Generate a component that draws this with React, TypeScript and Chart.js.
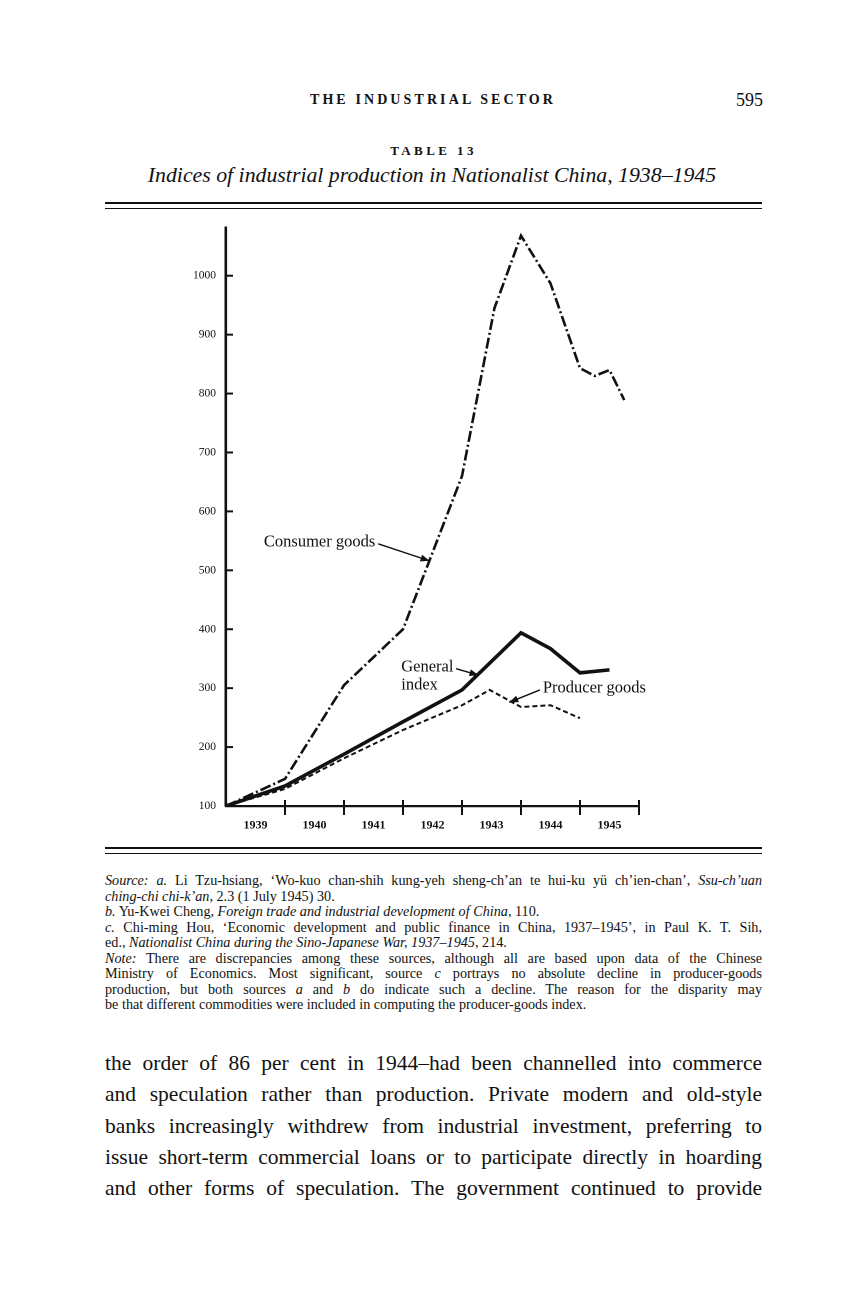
import React, { useEffect, useRef } from "react";
import { Chart, registerables } from "chart.js";

Chart.register(...registerables);

// ---- data ----
const yearLabels = ["1939", "1940", "1941", "1942", "1943", "1944", "1945"];
const yearLabelPositions = [0.5, 1.5, 2.5, 3.5, 4.5, 5.5, 6.5];
const yearBoundaries = [1, 2, 3, 4, 5, 6, 7];
const yTickValues = [100, 200, 300, 400, 500, 600, 700, 800, 900, 1000];

const generalX = [0, 1, 2, 3, 4, 5, 5.5, 6, 6.5];
const generalIndex = [100, 134, 188, 243, 297, 394, 367, 326, 331];

const consumerX = [0, 1, 2, 3, 4, 4.55, 5, 5.5, 6, 6.25, 6.5, 6.75];
const consumerGoods = [100, 146, 305, 400, 660, 945, 1068, 987, 843, 830, 840, 789];

const producerX = [0, 1, 2, 3, 4, 4.47, 5, 5.5, 6];
const producerGoods = [100, 129, 181, 229, 271, 297, 268, 271, 249];

// annotation labels, anchored in data units
const annotations = [
  { lines: ["Consumer goods"], tx: 2.53, ty: 548, align: "right", from: [2.58, 545], to: [3.45, 516] },
  { lines: ["General", "index"], tx: 2.97, ty: 336, align: "left", from: [3.9, 333], to: [4.28, 322] },
  { lines: ["Producer goods"], tx: 5.37, ty: 300, align: "left", from: [5.32, 297], to: [4.8, 276] },
];

const SERIF = '"Liberation Serif", "DejaVu Serif", serif';
const INK = "#111";

const zip = (xs: number[], ys: number[]) => xs.map((x, i) => ({ x, y: ys[i] }));

const marksPlugin = {
  id: "pageMarks",
  afterDraw(chart: any) {
    const { ctx, chartArea, scales } = chart;
    const xs = scales.x;
    const ys = scales.y;
    ctx.save();
    ctx.strokeStyle = INK;
    ctx.lineWidth = 2;
    for (const v of yearBoundaries) {
      const px = xs.getPixelForValue(v);
      ctx.beginPath();
      ctx.moveTo(px, chartArea.bottom - 6);
      ctx.lineTo(px, chartArea.bottom + 9);
      ctx.stroke();
    }
    for (const v of yTickValues) {
      if (v === yTickValues[0]) continue;
      const py = ys.getPixelForValue(v);
      ctx.beginPath();
      ctx.moveTo(chartArea.left, py);
      ctx.lineTo(chartArea.left + 7, py);
      ctx.stroke();
    }
    // annotations
    ctx.fillStyle = INK;
    ctx.font = `16.5px ${SERIF}`;
    ctx.textBaseline = "middle";
    for (const a of annotations) {
      const lx = xs.getPixelForValue(a.tx);
      const ly = ys.getPixelForValue(a.ty);
      ctx.textAlign = a.align as CanvasTextAlign;
      a.lines.forEach((t, i) => ctx.fillText(t, lx, ly + i * 18));
      const fx = xs.getPixelForValue(a.from[0]);
      const fy = ys.getPixelForValue(a.from[1]);
      const tx = xs.getPixelForValue(a.to[0]);
      const ty = ys.getPixelForValue(a.to[1]);
      ctx.lineWidth = 1.4;
      ctx.beginPath();
      ctx.moveTo(fx, fy);
      ctx.lineTo(tx, ty);
      ctx.stroke();
      const ang = Math.atan2(ty - fy, tx - fx);
      const L = 9, W = 3.5;
      ctx.beginPath();
      ctx.moveTo(tx, ty);
      ctx.lineTo(tx - L * Math.cos(ang) + W * Math.sin(ang), ty - L * Math.sin(ang) - W * Math.cos(ang));
      ctx.lineTo(tx - L * Math.cos(ang) - W * Math.sin(ang), ty - L * Math.sin(ang) + W * Math.cos(ang));
      ctx.closePath();
      ctx.fill();
    }
    ctx.restore();
  },
};

function IndexChart() {
  const ref = useRef<HTMLCanvasElement>(null);
  useEffect(() => {
    if (!ref.current) return;
    const chart = new Chart(ref.current, {
      type: "line",
      data: {
        datasets: [
          {
            label: "Consumer goods",
            data: zip(consumerX, consumerGoods),
            borderColor: INK,
            borderWidth: 2.6,
            borderDash: [11, 3, 2, 3],
            pointRadius: 0,
            tension: 0,
            fill: false,
          },
          {
            label: "Producer goods",
            data: zip(producerX, producerGoods),
            borderColor: INK,
            borderWidth: 2,
            borderDash: [5, 3],
            pointRadius: 0,
            tension: 0,
            fill: false,
          },
          {
            label: "General index",
            data: zip(generalX, generalIndex),
            borderColor: INK,
            borderWidth: 3.6,
            pointRadius: 0,
            tension: 0,
            fill: false,
          },
        ],
      },
      options: {
        animation: false,
        responsive: false,
        devicePixelRatio: 2,
        layout: { padding: { top: 8, right: 11, left: 0, bottom: 0 } },
        plugins: { legend: { display: false }, tooltip: { enabled: false } },
        scales: {
          x: {
            type: "linear",
            min: 0,
            max: 7,
            afterBuildTicks: (s: any) => {
              s.ticks = yearLabelPositions.map((v) => ({ value: v }));
            },
            afterFit: (s: any) => {
              s.height = 40;
              s.paddingLeft = 0;
              s.paddingRight = 0;
            },
            ticks: {
              autoSkip: false,
              maxRotation: 0,
              padding: 12,
              color: INK,
              font: { family: SERIF, size: 12, weight: "bold" },
              callback: (_v: any, i: number) => yearLabels[i],
            },
            grid: { display: false, drawTicks: false },
            border: { display: true, color: INK, width: 2.2 },
          },
          y: {
            type: "linear",
            min: 100,
            max: 1081,
            afterBuildTicks: (s: any) => {
              s.ticks = yTickValues.map((v) => ({ value: v }));
            },
            afterFit: (s: any) => {
              s.width = 76;
              s.paddingTop = 0;
              s.paddingBottom = 0;
            },
            ticks: {
              padding: 10,
              color: INK,
              font: { family: SERIF, size: 11.5 },
              callback: (v: any) => String(v),
            },
            grid: { display: false, drawTicks: false },
            border: { display: true, color: INK, width: 2.6 },
          },
        },
      },
      plugins: [marksPlugin],
    });
    return () => chart.destroy();
  }, []);
  return (
    <canvas
      ref={ref}
      width={500}
      height={626}
      style={{ position: "absolute", left: 150, top: 220, width: 500, height: 626 }}
    />
  );
}

const noteLines: { html: React.ReactNode; last?: boolean }[] = [
  {
    html: (
      <>
        <i>Source: a.</i> Li Tzu-hsiang, ‘Wo-kuo chan-shih kung-yeh sheng-ch’an te hui-ku yü ch’ien-chan’, <i>Ssu-ch’uan</i>
      </>
    ),
  },
  { html: (<><i>ching-chi chi-k’an</i>, 2.3 (1 July 1945) 30.</>), last: true },
  { html: (<><i>b.</i> Yu-Kwei Cheng, <i>Foreign trade and industrial development of China</i>, 110.</>), last: true },
  { html: (<><i>c.</i> Chi-ming Hou, ‘Economic development and public finance in China, 1937–1945’, in Paul K. T. Sih,</>) },
  { html: (<>ed., <i>Nationalist China during the Sino-Japanese War, 1937–1945</i>, 214.</>), last: true },
  { html: (<><i>Note:</i> There are discrepancies among these sources, although all are based upon data of the Chinese</>) },
  { html: (<>Ministry of Economics. Most significant, source <i>c</i> portrays no absolute decline in producer-goods</>) },
  { html: (<>production, but both sources <i>a</i> and <i>b</i> do indicate such a decline. The reason for the disparity may</>) },
  { html: (<>be that different commodities were included in computing the producer-goods index.</>), last: true },
];

const bodyLines = [
  "the order of 86 per cent in 1944–had been channelled into commerce",
  "and speculation rather than production. Private modern and old-style",
  "banks increasingly withdrew from industrial investment, preferring to",
  "issue short-term commercial loans or to participate directly in hoarding",
  "and other forms of speculation. The government continued to provide",
];

export default function App() {
  const L = 105;
  const W = 657;
  return (
    <div
      style={{
        position: "absolute",
        left: 0,
        top: 0,
        width: 864,
        height: 1296,
        background: "#fff",
        color: INK,
        fontFamily: SERIF,
        overflow: "hidden",
      }}
    >
      <div
        style={{
          position: "absolute",
          left: 0,
          width: 866,
          top: 90,
          lineHeight: "20px",
          fontSize: 14,
          letterSpacing: 3.1,
          textAlign: "center",
          fontWeight: 600,
        }}
      >
        THE INDUSTRIAL SECTOR
      </div>
      <div
        style={{ position: "absolute", left: 0, width: 763, top: 89, lineHeight: "22px", fontSize: 18, textAlign: "right" }}
      >
        595
      </div>
      <div
        style={{
          position: "absolute",
          left: 0,
          width: 867,
          top: 142,
          lineHeight: "18px",
          fontSize: 13,
          letterSpacing: 3.4,
          textAlign: "center",
          fontWeight: 600,
        }}
      >
        TABLE 13
      </div>
      <div
        style={{
          position: "absolute",
          left: 0,
          width: 864,
          top: 162,
          lineHeight: "26px",
          fontSize: 21.8,
          fontStyle: "italic",
          textAlign: "center",
        }}
      >
        Indices of industrial production in Nationalist China, 1938–1945
      </div>
      <div style={{ position: "absolute", left: L, width: W, top: 202, height: 2, background: INK }} />
      <div style={{ position: "absolute", left: L, width: W, top: 208, height: 1.2, background: INK }} />

      <IndexChart />

      <div style={{ position: "absolute", left: L, width: W, top: 847, height: 2, background: INK }} />
      <div style={{ position: "absolute", left: L, width: W, top: 853, height: 1.2, background: INK }} />

      {noteLines.map((ln, i) => (
        <div
          key={i}
          style={{
            position: "absolute",
            left: L,
            width: W,
            top: 872 + i * 15.5,
            fontSize: 14.2,
            lineHeight: "17px",
            textAlign: "justify",
            textAlignLast: ln.last ? "left" : "justify",
            whiteSpace: "nowrap",
          } as React.CSSProperties}
        >
          {ln.html}
        </div>
      ))}

      {bodyLines.map((t, i) => (
        <div
          key={i}
          style={{
            position: "absolute",
            left: L,
            width: W,
            top: 1049 + i * 31.3,
            fontSize: 21.5,
            lineHeight: "28px",
            textAlign: "justify",
            textAlignLast: "justify",
            whiteSpace: "nowrap",
          } as React.CSSProperties}
        >
          {t}
        </div>
      ))}
    </div>
  );
}
